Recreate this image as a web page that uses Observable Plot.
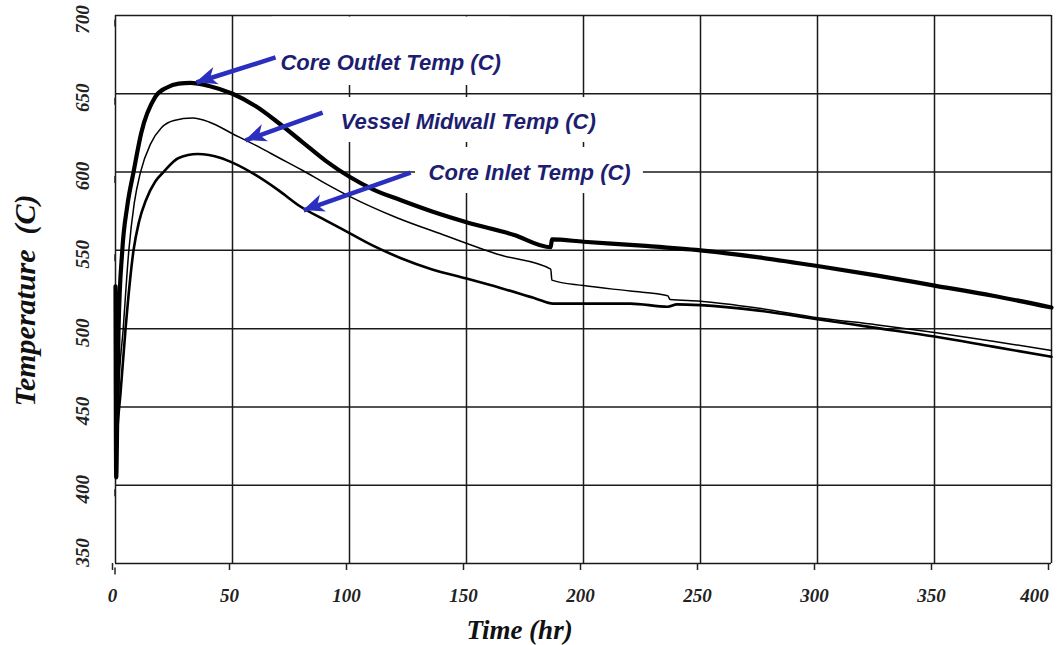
<!DOCTYPE html>
<html><head><meta charset="utf-8">
<script src="https://cdn.jsdelivr.net/npm/d3@7"></script>
<script src="https://cdn.jsdelivr.net/npm/@observablehq/plot@0.6"></script>
<style>
html,body{margin:0;padding:0;background:#fff;}
</style></head><body><div id="chart"></div>
<script>
// ---- tick values
const xTicks = [0, 50, 100, 150, 200, 250, 300, 350, 400];
const yTicks = [350, 400, 450, 500, 550, 600, 650, 700];

// ---- Core Outlet Temp (C)
const outletTime = [0, 0.3, 0.8, 1.3, 2.9, 5, 7.7, 11, 17, 22, 27, 32, 40, 50, 60, 70, 80, 90, 100, 110, 122, 135, 150, 170, 186, 186.5, 200, 225, 250, 275, 300, 325, 350, 375, 400];
const outletTemp = [527, 405, 450, 500, 550, 578, 600, 625, 648, 654, 656.5, 657, 655, 650, 642, 631, 619, 607, 597, 589, 582, 575, 568, 560, 552, 557, 555.5, 553, 550, 545.5, 540, 534, 527.5, 521, 513.5];

// ---- Vessel Midwall Temp (C)
const midwallTime = [0, 0.8, 1.3, 3.3, 5.7, 8, 10.7, 15, 19.7, 25, 33, 40, 50, 60, 70, 80, 90, 100, 120, 140, 164.5, 186, 186.5, 200, 220, 236, 237, 250, 275, 300, 325, 350, 375, 400];
const midwallTemp = [410, 427, 458, 500, 550, 580, 600, 618, 628.5, 633, 634.5, 632, 624.5, 617, 609, 601, 592.5, 584.5, 571, 560, 547, 538, 531, 527.5, 524, 521, 518.6, 517.5, 513, 507, 502.5, 497.5, 492, 486];

// ---- Core Inlet Temp (C)
const inletTime = [0, 1, 2.1, 4.3, 7.7, 10, 13, 17, 20.5, 27, 35, 45, 50, 60, 70, 79, 90, 100, 110, 122, 135, 150, 164.5, 180, 187, 200, 220, 236, 240, 250, 275, 300, 325, 350, 375, 400];
const inletTemp = [418, 440, 458, 500, 550, 568, 582, 594, 600, 609, 611.5, 609, 606, 598, 588, 578, 569, 561, 553, 545, 538, 532, 526, 519, 516, 516, 516, 514, 515.5, 515, 511.5, 506, 500.5, 495, 488.5, 482];

// ---- annotations (data coordinates)
const annLabels = ["Core Outlet Temp (C)", "Vessel Midwall Temp (C)", "Core Inlet Temp (C)"];
const annTextTime = [70.5, 96.2, 133.8];
const annTextTemp = [670, 632.3, 599.7];
const annTailTime = [68.4, 88.5, 126.1];
const annTailTemp = [673.2, 638, 599.7];
const annTipTime = [34.6, 55.6, 80.4];
const annTipTemp = [657.2, 620.2, 575.5];
const boxTime1 = [67.1, 94, 128.2];
const boxTime2 = [168.8, 207.3, 225.6];
const boxTemp1 = [655.3, 618.9, 586.3];
const boxTemp2 = [699, 647.6, 615.7];

const series = [
  {name: "Core Outlet Temp (C)", t: outletTime, v: outletTemp, w: 4.2},
  {name: "Vessel Midwall Temp (C)", t: midwallTime, v: midwallTemp, w: 1.5},
  {name: "Core Inlet Temp (C)", t: inletTime, v: inletTemp, w: 2.6}
];
const rows = series.flatMap(s => s.t.map((t, i) => ({series: s.name, time: t, temp: s.v[i]})));
const ann = annLabels.map((label, i) => ({
  label, tx: annTextTime[i], ty: annTextTemp[i],
  x1: annTailTime[i], y1: annTailTemp[i], x2: annTipTime[i], y2: annTipTemp[i],
  bx1: boxTime1[i], bx2: boxTime2[i], by1: boxTemp1[i], by2: boxTemp2[i]
}));

const arrowColor = "#2b2fbf";
const textColor = "#1e1e70";
const serif = "'Liberation Serif', 'Times New Roman', serif";
const sans = "'Liberation Sans', Arial, sans-serif";

function arrowHeads(index, scales) {
  const g = d3.create("svg:g");
  for (const d of ann) {
    const x1 = scales.x(d.x1), y1 = scales.y(d.y1);
    const x2 = scales.x(d.x2), y2 = scales.y(d.y2);
    const a = Math.atan2(y2 - y1, x2 - x1);
    const L = 21, W = 9, N = 15;
    const c = Math.cos(a), s = Math.sin(a);
    const bx = x2 - L * c, by = y2 - L * s;
    const nx = x2 - N * c, ny = y2 - N * s;
    const pts = [[x2, y2], [bx + W * s, by - W * c], [nx, ny], [bx - W * s, by + W * c]];
    g.append("polygon").attr("points", pts.map(p => p.join(",")).join(" ")).attr("fill", arrowColor);
  }
  return g.node();
}

const plot = Plot.plot({
  width: 1061,
  height: 645,
  marginLeft: 115,
  marginRight: 10,
  marginTop: 15,
  marginBottom: 82,
  style: {background: "#fff", fontFamily: serif, overflow: "visible"},
  x: {domain: [0, 400], label: null},
  y: {domain: [350, 700], label: null},
  marks: [
    Plot.gridX(xTicks, {stroke: "#1a1a1a", strokeOpacity: 1, strokeWidth: 1.5}),
    Plot.gridY(yTicks, {stroke: "#1a1a1a", strokeOpacity: 1, strokeWidth: 1.5}),
    Plot.axisX({ticks: xTicks, tickSize: 7, tickPadding: 18, strokeWidth: 1.5, color: "#222",
      fontSize: 19, fontWeight: "bold", fontStyle: "italic", fontFamily: serif, dx: -3, label: null}),
    Plot.axisY({ticks: yTicks, tickSize: 7, tickPadding: 26, strokeWidth: 1.5, color: "#222",
      fontSize: 19, fontWeight: "bold", fontStyle: "italic", fontFamily: serif, rotate: -90,
      textAnchor: "middle", dy: 4, label: null}),
    Plot.rect(ann, {x1: "bx1", x2: "bx2", y1: "by1", y2: "by2", fill: "white"}),
    Plot.line(rows, {x: "time", y: "temp", z: "series", stroke: "black",
      strokeWidth: d => series.find(s => s.name === d.series).w, curve: "monotone-x"}),
    Plot.link(ann, {x1: "x1", y1: "y1", x2: "x2", y2: "y2", stroke: arrowColor, strokeWidth: 4.5, strokeLinecap: "butt"}),
    arrowHeads,
    Plot.text(ann, {x: "tx", y: "ty", text: "label", textAnchor: "start", fill: textColor,
      fontFamily: sans, fontWeight: "bold", fontStyle: "italic", fontSize: 22}),
    Plot.text(["Time (hr)"], {frameAnchor: "bottom", dx: -64, dy: 75, text: d => d, fontFamily: serif,
      fontWeight: "bold", fontStyle: "italic", fontSize: 27, fill: "#111"}),
    Plot.text(["Temperature\u00a0\u00a0(C)"], {frameAnchor: "left", dx: -90, dy: 11, rotate: -90, text: d => d,
      textAnchor: "middle", fontFamily: serif, fontWeight: "bold", fontStyle: "italic", fontSize: 30, fill: "#111"})
  ]
});
document.getElementById("chart").appendChild(plot);

// nudge edge tick labels inward like the original
d3.select(plot).selectAll("text").each(function() {
  const t = this.textContent;
  if (t === "400" && this.closest("[aria-label='x-axis tick label']")) {
    this.setAttribute("dx", "-14");
  }
  if (t === "350" && this.closest("[aria-label='y-axis tick label']")) {
    this.setAttribute("dx", "15");
  }
});
</script></body></html>
